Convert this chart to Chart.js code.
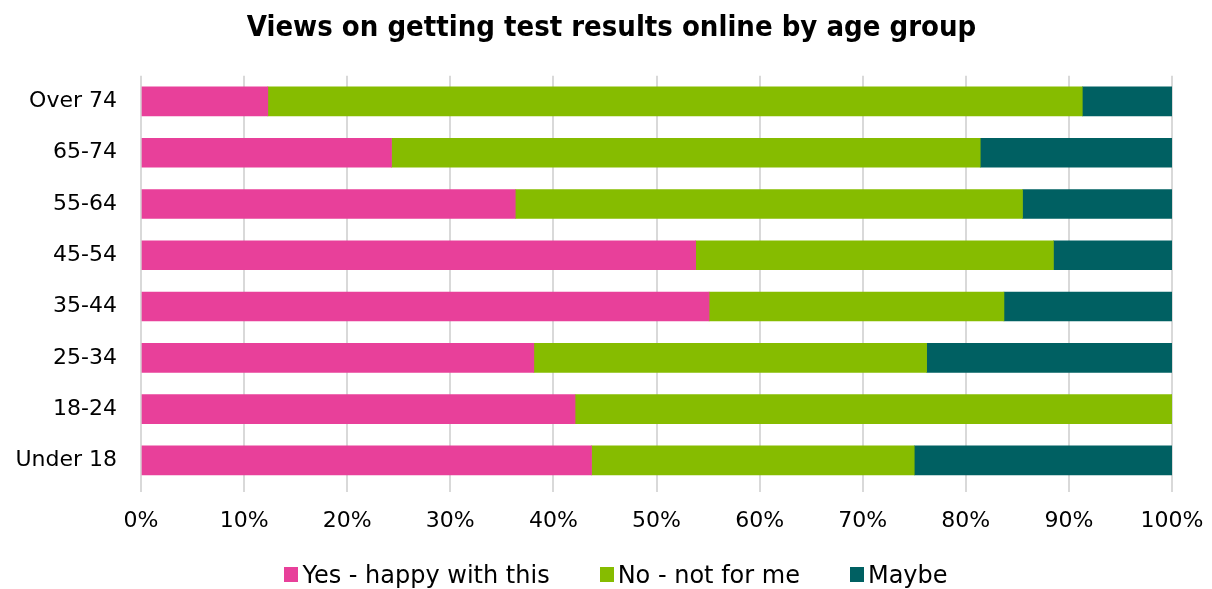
<!DOCTYPE html>
<html>
<head>
<meta charset="utf-8">
<script src="https://cdn.jsdelivr.net/npm/chart.js@4/dist/chart.umd.min.js"></script>
<style>
  html, body { margin: 0; padding: 0; background: #ffffff; }
  #wrap { position: relative; width: 1212px; height: 589px; }
  #chart { position: absolute; left: 0; top: 0; }
  #legend {
    position: absolute; left: 0; top: 560px; width: 1212px; height: 29px;
    display: flex; justify-content: center; align-items: center;
    font-family: "DejaVu Sans", sans-serif; font-size: 24px; color: #000;
    padding-left: 20px; box-sizing: border-box;
  }
  .item { display: flex; align-items: center; margin: 0 25px; white-space: nowrap; }
  .swatch { width: 14px; height: 15px; margin-right: 4px; display: inline-block; }
</style>
</head>
<body>
<div id="wrap">
  <canvas id="chart" width="1212" height="589"></canvas>
  <div id="legend"></div>
</div>
<script>
// Age groups, listed top to bottom
const categories = ['Over 74', '65-74', '55-64', '45-54', '35-44', '25-34', '18-24', 'Under 18'];

// Share of respondents (%) per answer
const yesHappy = [12.3, 24.3, 36.3, 53.8, 55.1, 38.1, 42.1, 43.7];
const noNotForMe = [79.0, 57.1, 49.2, 34.7, 28.6, 38.1, 57.9, 31.3];
const maybe = [8.7, 18.6, 14.5, 11.5, 16.3, 23.8, 0, 25.0];

const seriesNames = ['Yes - happy with this', 'No - not for me', 'Maybe'];
const seriesColors = ['#E8409A', '#86BC00', '#006062'];
const xTicks = [0, 10, 20, 30, 40, 50, 60, 70, 80, 90, 100];

const FONT = '"DejaVu Sans", sans-serif';

const datasets = [yesHappy, noNotForMe, maybe].map((values, i) => ({
  label: seriesNames[i],
  data: values,
  backgroundColor: seriesColors[i],
  borderWidth: 0,
  barThickness: 29
}));

new Chart(document.getElementById('chart'), {
  type: 'bar',
  data: { labels: categories, datasets },
  options: {
    indexAxis: 'y',
    responsive: false,
    animation: false,
    layout: { padding: { left: 11, right: 0, top: 0, bottom: 30 } },
    plugins: {
      legend: { display: false },
      tooltip: { enabled: false },
      title: {
        display: true,
        text: 'Views on getting test results online by age group',
        color: '#000',
        font: { family: '"DejaVu Sans Condensed", "DejaVu Sans", sans-serif', size: 29, weight: 'bold' },
        padding: { top: 11, bottom: 30 }
      }
    },
    scales: {
      x: {
        stacked: true,
        min: 0,
        max: 100,
        afterBuildTicks: (scale) => { scale.ticks = xTicks.map(v => ({ value: v })); },
        ticks: {
          callback: (v) => v + '%',
          color: '#000',
          font: { family: FONT, size: 22 },
          padding: 16,
          maxRotation: 0
        },
        grid: { color: '#d9d9d9', lineWidth: 2, drawTicks: true, tickLength: 6 },
        border: { display: false },
        afterFit: (scale) => {
          scale.height = 73;
          scale.paddingLeft = 0;
          scale.paddingRight = 0;
        }
      },
      y: {
        stacked: true,
        ticks: {
          color: '#000',
          font: { family: FONT, size: 22 },
          padding: 16
        },
        grid: { display: false },
        border: { display: false },
        afterFit: (scale) => { scale.width = 130; }
      },
      yRight: {
        type: 'category',
        position: 'right',
        display: true,
        ticks: { display: false },
        grid: { display: false },
        border: { display: false },
        afterFit: (scale) => { scale.width = 40; }
      }
    }
  }
});

// Legend row under the axis
const legend = document.getElementById('legend');
seriesNames.forEach((name, i) => {
  const item = document.createElement('span');
  item.className = 'item';
  const sw = document.createElement('span');
  sw.className = 'swatch';
  sw.style.background = seriesColors[i];
  const txt = document.createElement('span');
  txt.textContent = name;
  item.appendChild(sw);
  item.appendChild(txt);
  legend.appendChild(item);
});
</script>
</body>
</html>
